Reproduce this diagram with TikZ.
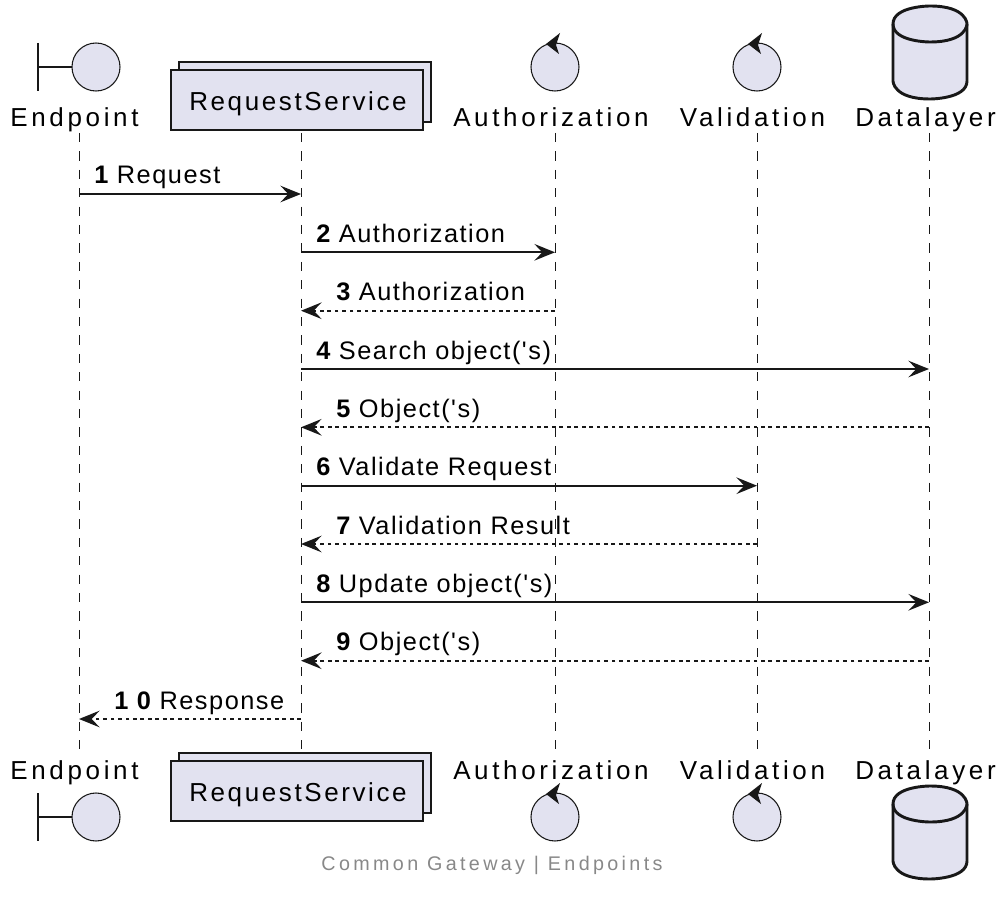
\documentclass[tikz,border=0pt]{standalone}
\usepackage{fontspec}
\setmainfont{Liberation Sans}
\newfontfamily\partfont[LetterSpace=14]{Liberation Sans}
\newfontfamily\boxfont[LetterSpace=10]{Liberation Sans}
\newfontfamily\msgfont[LetterSpace=6]{Liberation Sans}
\newfontfamily\footfont[LetterSpace=17]{Liberation Sans}
\usetikzlibrary{arrows.meta}
\definecolor{pfill}{HTML}{E2E2F0}
\definecolor{pline}{HTML}{181818}
\definecolor{footgray}{HTML}{888888}
\begin{document}
\begin{tikzpicture}[x=0.75pt,y=-0.75pt,
  lifeline/.style={pline, line width=0.75pt, dash pattern=on 6.9pt off 6.9pt},
  msg/.style={pline, line width=1.25pt, -{Stealth[length=15.5pt,width=12.5pt,inset=6pt]}},
  reply/.style={msg, dash pattern=on 2.8pt off 2.8pt},
  thinshape/.style={draw=pline, fill=pfill, line width=0.8pt},
  thinline/.style={draw=pline, line width=0.8pt},
  cyl/.style={draw=pline, fill=pfill, line width=2.2pt},
  plabel/.style={anchor=base, inner sep=0pt, font=\partfont\fontsize{19.5}{23}\selectfont},
  blabel/.style={anchor=base, inner sep=0pt, font=\boxfont\fontsize{19.5}{23}\selectfont},
  mlabel/.style={anchor=base west, inner sep=0pt, font=\msgfont\fontsize{19}{22}\selectfont},
  footer/.style={anchor=base, inner sep=0pt, text=footgray, font=\footfont\fontsize{14.8}{17}\selectfont}
]
\useasboundingbox (0,0) rectangle (999,905);

% ---------- lifelines ----------
\coordinate (ET) at (79,133);  \coordinate (EB) at (79,753);
\coordinate (RT) at (301,133); \coordinate (RB) at (301,753);
\coordinate (AT) at (555,133); \coordinate (AB) at (555,753);
\coordinate (VT) at (757,133); \coordinate (VB) at (757,753);
\coordinate (DT) at (929,133); \coordinate (DB) at (929,753);
\draw[lifeline] (ET) -- (EB);
\draw[lifeline] (RT) -- (RB);
\draw[lifeline] (AT) -- (AB);
\draw[lifeline] (VT) -- (VB);
\draw[lifeline] (DT) -- (DB);

% ---------- top participants ----------
% Endpoint (boundary)
\draw[thinline] (38,43) -- (38,91);
\draw[thinline] (38,67) -- (72,67);
\draw[thinshape] (96,67) circle[radius=24];
\node[plabel] (epT) at (74.5,126.5) {Endpoint};
% RequestService (collection)
\draw[thinshape] (179,62) rectangle (431,122);
\draw[thinshape] (171,70) rectangle (423,130);
\node[blabel] (rsT) at (298,111) {RequestService};
% Authorization (control)
\draw[thinshape] (555,67) circle[radius=24];
\fill[pline] (546,44) -- (560,33) -- (556,45) -- (559,54) -- cycle;
\node[plabel] (auT) at (551,126.5) {Authorization};
% Validation (control)
\draw[thinshape] (757,67) circle[radius=24];
\fill[pline] (748,44) -- (762,33) -- (758,45) -- (761,54) -- cycle;
\node[plabel] (vaT) at (752.5,126.5) {Validation};
% Datalayer (database)
\draw[cyl] (893,24) .. controls (893,6) and (930,6) .. (930,6) .. controls (967,6) and (967,24) .. (967,24) -- (967,81) .. controls (967,99) and (930,99) .. (930,99) .. controls (893,99) and (893,81) .. (893,81) -- cycle;
\draw[cyl, fill=none] (893,24) .. controls (893,42) and (930,42) .. (930,42) .. controls (967,42) and (967,24) .. (967,24);
\node[plabel] (dlT) at (925.5,126.5) {Datalayer};

% ---------- bottom participants ----------
\draw[thinline] (38,793) -- (38,841);
\draw[thinline] (38,817) -- (72,817);
\draw[thinshape] (96,817) circle[radius=24];
\node[plabel] (epB) at (74.5,779.5) {Endpoint};
\draw[thinshape] (179,753) rectangle (431,813);
\draw[thinshape] (171,761) rectangle (423,821);
\node[blabel] (rsB) at (298,801) {RequestService};
\draw[thinshape] (555,817) circle[radius=24];
\fill[pline] (546,794) -- (560,783) -- (556,795) -- (559,804) -- cycle;
\node[plabel] (auB) at (551,779.5) {Authorization};
\draw[thinshape] (757,817) circle[radius=24];
\fill[pline] (748,794) -- (762,783) -- (758,795) -- (761,804) -- cycle;
\node[plabel] (vaB) at (752.5,779.5) {Validation};
\draw[cyl] (893,804) .. controls (893,786) and (930,786) .. (930,786) .. controls (967,786) and (967,804) .. (967,804) -- (967,861) .. controls (967,879) and (930,879) .. (930,879) .. controls (893,879) and (893,861) .. (893,861) -- cycle;
\draw[cyl, fill=none] (893,804) .. controls (893,822) and (930,822) .. (930,822) .. controls (967,822) and (967,804) .. (967,804);
\node[plabel] (dlB) at (925.5,779.5) {Datalayer};

% ---------- message anchor points ----------
\coordinate (E1) at (79,194);    \coordinate (R1) at (301,194);
\coordinate (R2) at (301,252.3); \coordinate (A2) at (555,252.3);
\coordinate (A3) at (555,310.7); \coordinate (R3) at (301,310.7);
\coordinate (R4) at (301,369);   \coordinate (D4) at (929,369);
\coordinate (D5) at (929,427.3); \coordinate (R5) at (301,427.3);
\coordinate (R6) at (301,485.7); \coordinate (V6) at (757,485.7);
\coordinate (V7) at (757,544);   \coordinate (R7) at (301,544);
\coordinate (R8) at (301,602.3); \coordinate (D8) at (929,602.3);
\coordinate (D9) at (929,660.7); \coordinate (R9) at (301,660.7);
\coordinate (R10) at (301,719);  \coordinate (E10) at (79,719);

% ---------- messages ----------
\draw[msg] (E1) -- (R1);
\node[mlabel] (l1) at (94,184) {{\bfseries 1} Request};
\draw[msg] (R2) -- (A2);
\node[mlabel] (l2) at (316,242.3) {{\bfseries 2} Authorization};
\draw[reply] (A3) -- (R3);
\node[mlabel] (l3) at (336,300.7) {{\bfseries 3} Authorization};
\draw[msg] (R4) -- (D4);
\node[mlabel] (l4) at (316,359) {{\bfseries 4} Search object('s)};
\draw[reply] (D5) -- (R5);
\node[mlabel] (l5) at (336,417.3) {{\bfseries 5} Object('s)};
\draw[msg] (R6) -- (V6);
\node[mlabel] (l6) at (316,475.7) {{\bfseries 6} Validate Request};
\draw[reply] (V7) -- (R7);
\node[mlabel] (l7) at (336,534) {{\bfseries 7} Validation Result};
\draw[msg] (R8) -- (D8);
\node[mlabel] (l8) at (316,592.3) {{\bfseries 8} Update object('s)};
\draw[reply] (D9) -- (R9);
\node[mlabel] (l9) at (336,650.7) {{\bfseries 9} Object('s)};
\draw[reply] (R10) -- (E10);
\node[mlabel] (l10) at (114,709) {{\bfseries 1 0} Response};

% ---------- footer ----------
\node[footer] (foot) at (492,870) {Common Gateway | Endpoints};
\end{tikzpicture}
\end{document}
